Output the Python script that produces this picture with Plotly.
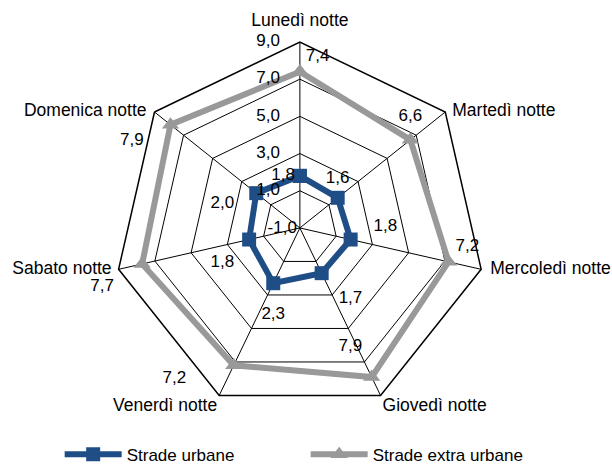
import plotly.graph_objects as go

categories = ["Lunedì notte", "Martedì notte", "Mercoledì notte", "Giovedì notte",
              "Venerdì notte", "Sabato notte", "Domenica notte"]
urbane = [1.8, 1.6, 1.8, 1.7, 2.3, 1.8, 2.0]
extra_urbane = [7.4, 6.6, 7.2, 7.9, 7.2, 7.7, 7.9]
radial_ticks = [-1, 1, 3, 5, 7, 9]
r_min, r_max = -1, 9

# label placement (style only): position, offset distance (px), padding
cat_pos = ["top center", "middle right", "middle right", "bottom right",
           "bottom left", "middle left", "middle left"]
cat_off = [12, 7, 9, 2, 2, 7, 8]
tick_off = 20

urb_pos = ["middle left", "top center", "top right", "bottom right",
           "bottom center", "bottom left", "middle left"]
urb_off = [5, 11, 4, 17, 23, 15, 22]
urb_lead = [0, 0, 4, 0, 0, 0, 0]
urb_trail = [0, 0, 0, 0, 0, 0, 0]
urb_br = [False, False, False, False, False, False, True]
ext_pos = ["top right", "top center", "top right", "top center",
           "bottom left", "bottom left", "bottom left"]
ext_off = [6, 15, 7, 22, 5, 14, 8]
ext_lead = [0, 0, 0, 0, 0, 0, 0]
ext_trail = [0, 0, 0, 9, 9, 3, 4]

BLUE = "#1F4E87"
GREY = "#999999"
FONT = "Liberation Sans, Arial, sans-serif"
NB = "\u00a0"


def fmt(v):
    return f"{v:.1f}".replace(".", ",")


def closed(vals):
    return list(vals) + [vals[0]]


def label_texts(vals, lead, trail, br=None):
    br = br or [False] * len(vals)
    return [("<br>" if b else "") + NB * l + fmt(v) + NB * t
            for v, l, t, b in zip(vals, lead, trail, br)]


def off_to_size(offs):
    # plotly text offset r = size/2/0.8 + 1
    return [max(0.0, 1.6 * (o - 1)) for o in offs]


def label_trace(r, theta, text, pos, offs, size):
    return go.Scatterpolar(
        r=r, theta=theta, mode="markers+text",
        text=text, textposition=pos,
        marker=dict(size=off_to_size(offs), opacity=0, line=dict(width=0)),
        textfont=dict(size=size, color="black", family=FONT),
        showlegend=False, hoverinfo="skip", cliponaxis=False,
    )


fig = go.Figure()

fig.add_trace(go.Scatterpolar(
    r=closed(urbane), theta=closed(categories), mode="lines+markers",
    name="Strade urbane",
    line=dict(color=BLUE, width=6),
    marker=dict(symbol="square", size=14, color=BLUE, line=dict(width=0)),
    hoverinfo="skip",
))
fig.add_trace(go.Scatterpolar(
    r=closed(extra_urbane), theta=closed(categories), mode="lines+markers",
    name="Strade extra urbane",
    line=dict(color=GREY, width=6),
    marker=dict(symbol="triangle-up", size=15, color=GREY, line=dict(width=0)),
    hoverinfo="skip",
))
fig.add_trace(label_trace(urbane, categories,
                          label_texts(urbane, urb_lead, urb_trail, urb_br),
                          urb_pos, urb_off, 17))
fig.add_trace(label_trace(extra_urbane, categories,
                          label_texts(extra_urbane, ext_lead, ext_trail),
                          ext_pos, ext_off, 17))
# category labels at the outer edge
fig.add_trace(label_trace([r_max] * len(categories), categories, categories,
                          cat_pos, cat_off, 17.5))
# radial tick labels left of the first spoke (all but the centre one)
upper_ticks = [t for t in radial_ticks if t > r_min]
fig.add_trace(label_trace(upper_ticks, [categories[0]] * len(upper_ticks),
                          [fmt(t) for t in upper_ticks],
                          ["middle left"] * len(upper_ticks),
                          [tick_off] * len(upper_ticks), 17))

fig.update_layout(
    template="none",
    width=612, height=464,
    margin=dict(l=0, r=0, t=0, b=0, autoexpand=False),
    paper_bgcolor="white", plot_bgcolor="white",
    separators=", ",
    font=dict(family=FONT, size=17, color="black"),
    polar=dict(
        domain=dict(x=[0.186, 0.794], y=[0.108, 0.9095]),
        gridshape="linear",
        bgcolor="white",
        angularaxis=dict(
            rotation=90, direction="clockwise",
            linecolor="black", linewidth=1.5, showline=True,
            gridcolor="black", gridwidth=1.3, showgrid=True,
            ticks="", showticklabels=False,
        ),
        radialaxis=dict(
            range=[r_min, r_max], tickvals=radial_ticks,
            # the centre label comes from the axis itself
            ticktext=[fmt(t) if t == r_min else "" for t in radial_ticks],
            angle=90, side="counterclockwise", tickangle=90,
            showticklabels=True, tickfont=dict(size=17),
            showline=False, ticks="", showgrid=True,
            gridcolor="black", gridwidth=1.3,
        ),
    ),
    legend=dict(
        orientation="h", x=0.0975, xanchor="left", y=0.02, yanchor="middle",
        entrywidth=174, itemwidth=57, font=dict(size=17),
        bgcolor="rgba(0,0,0,0)",
    ),
)

fig.write_html("out.html", config={"displayModeBar": False},
               post_script="document.body.style.margin='0px';")
